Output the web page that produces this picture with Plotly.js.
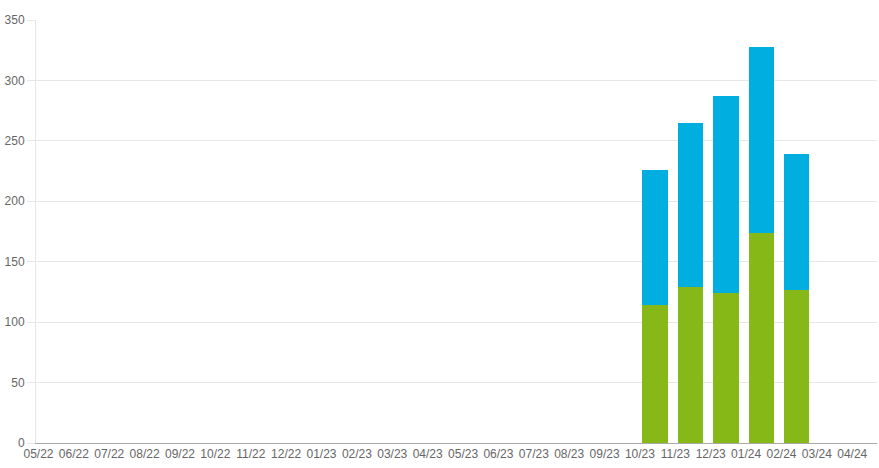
<!DOCTYPE html>
<html>
<head>
<meta charset="utf-8">
<script src="https://cdn.plot.ly/plotly-3.0.1.min.js"></script>
<style>
  html, body { margin: 0; padding: 0; background: #fff; }
  #chart { width: 879px; height: 468px; }
</style>
</head>
<body>
<div id="chart"></div>
<script>
// months shown on the x axis
const months = [
  "05/22", "06/22", "07/22", "08/22", "09/22", "10/22", "11/22", "12/22",
  "01/23", "02/23", "03/23", "04/23", "05/23", "06/23", "07/23", "08/23",
  "09/23", "10/23", "11/23", "12/23", "01/24", "02/24", "03/24", "04/24"
];

// bottom (green) and top (blue) parts of each stack
const greenValues = [
  null, null, null, null, null, null, null, null,
  null, null, null, null, null, null, null, null,
  null, 114, 129, 124, 174, 127, null, null
];
const blueValues = [
  null, null, null, null, null, null, null, null,
  null, null, null, null, null, null, null, null,
  null, 112, 136, 163, 154, 112, null, null
];

const yTicks = [0, 50, 100, 150, 200, 250, 300, 350];

const traces = [
  {
    type: "bar",
    x: months,
    y: greenValues,
    marker: { color: "#86b817" },
    width: 0.72,
    offset: 0.07,
    hoverinfo: "x+y"
  },
  {
    type: "bar",
    x: months,
    y: blueValues,
    marker: { color: "#00aee0" },
    width: 0.72,
    offset: 0.07,
    hoverinfo: "x+y"
  }
];

const layout = {
  width: 879,
  height: 468,
  margin: { l: 36, r: 2, t: 20, b: 25 },
  paper_bgcolor: "#fff",
  plot_bgcolor: "#fff",
  barmode: "stack",
  showlegend: false,
  font: { family: "Liberation Sans, Arial, sans-serif", size: 12, color: "#666" },
  xaxis: {
    type: "category",
    categoryorder: "array",
    categoryarray: months,
    range: [-0.07, 23.7],
    showgrid: false,
    showline: true,
    linecolor: "#aaa",
    linewidth: 1,
    ticks: "",
    tickfont: { size: 12, color: "#666" },
    fixedrange: true
  },
  yaxis: {
    range: [0, 350],
    tickvals: yTicks,
    showgrid: true,
    gridcolor: "#e6e6e6",
    gridwidth: 1,
    zeroline: false,
    showline: true,
    linecolor: "#e6e6e6",
    ticks: "outside",
    ticklen: 8,
    tickcolor: "#e6e6e6",
    tickfont: { size: 12, color: "#666" },
    fixedrange: true
  }
};

Plotly.newPlot("chart", traces, layout, { displayModeBar: false, staticPlot: true });
</script>
</body>
</html>
